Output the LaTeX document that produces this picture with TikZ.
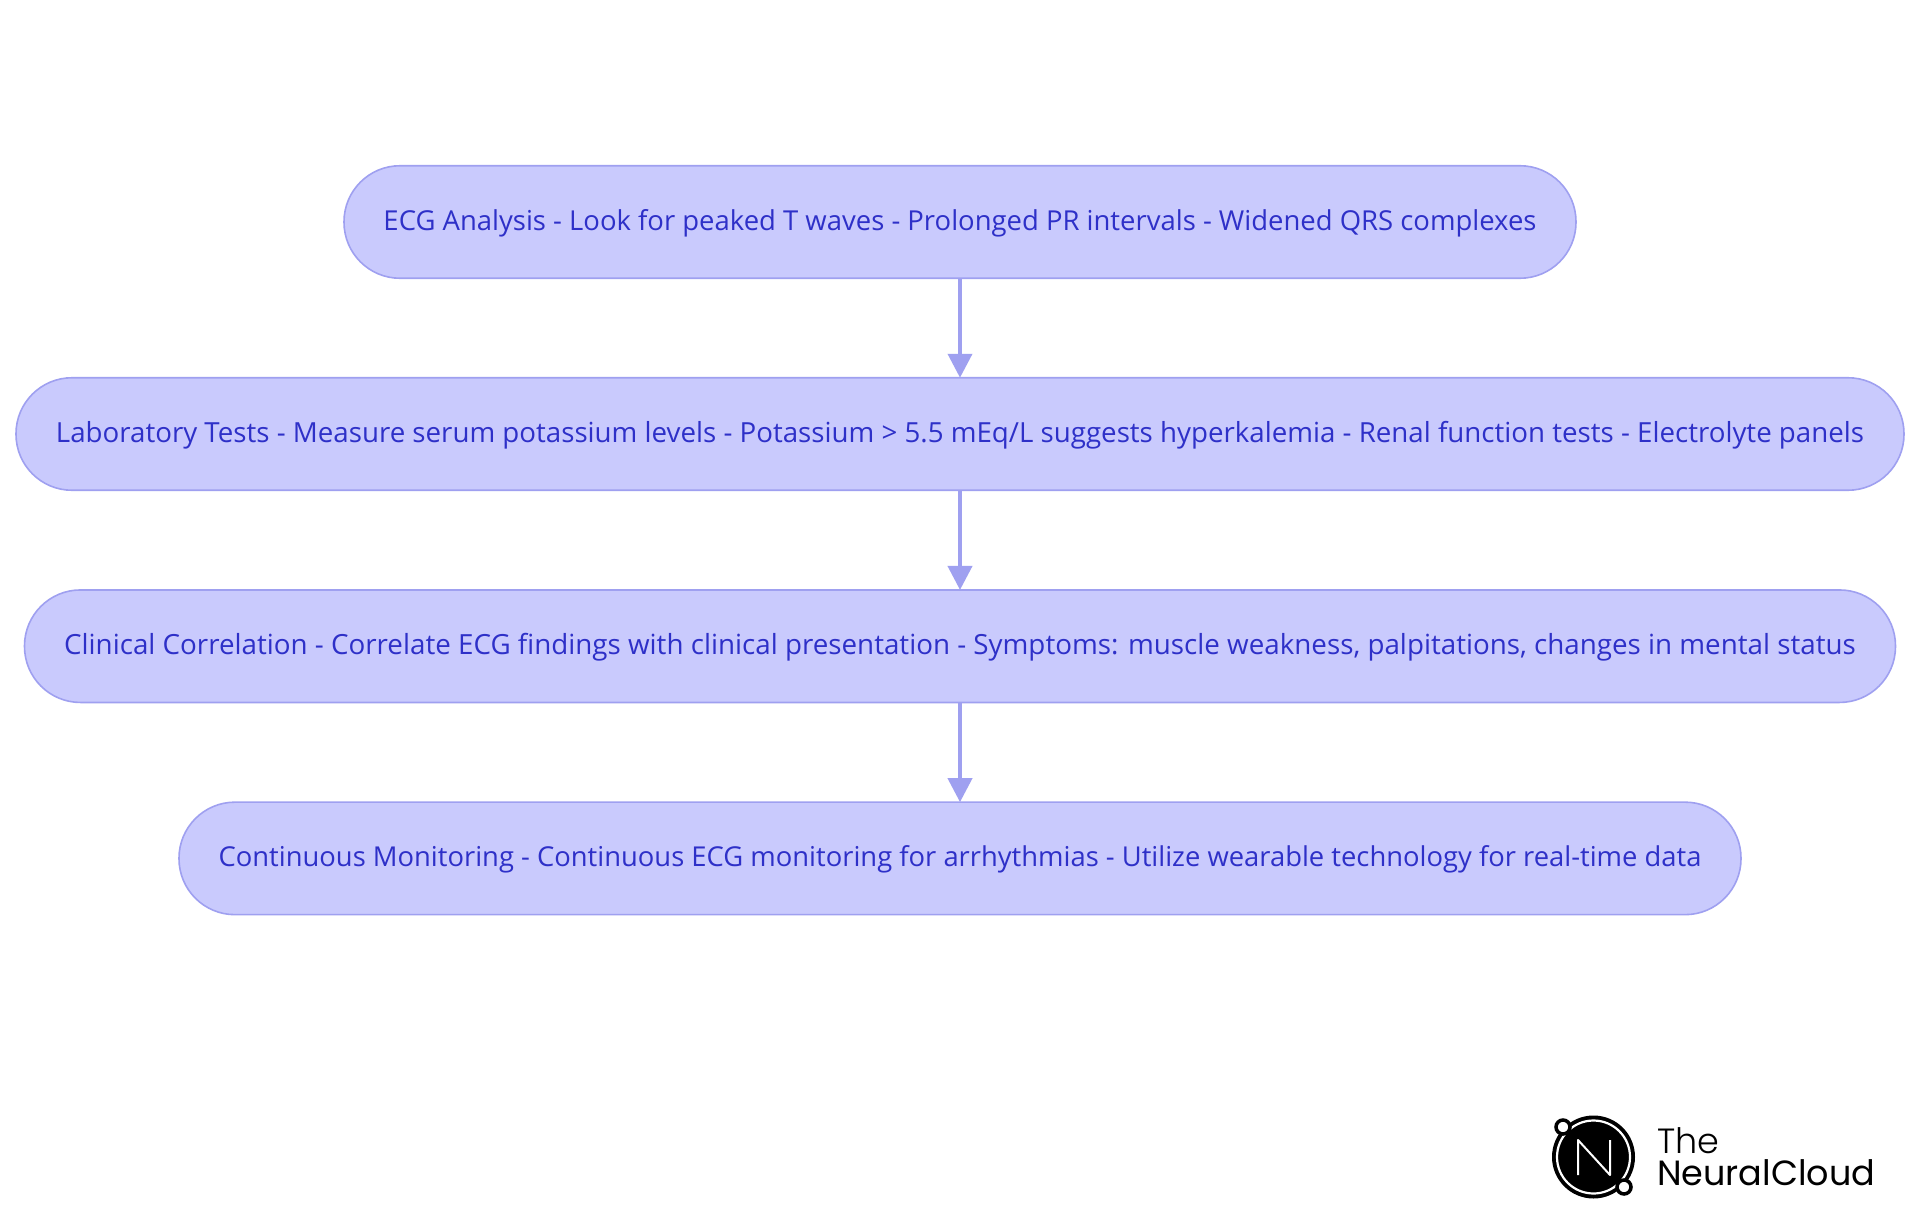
\documentclass[tikz,border=0pt]{standalone}
\usepackage{fontspec}
\setmainfont{Open Sans}
\newfontfamily\logofont{Poppins}
\newfontfamily\logolight{Poppins Light}
\usetikzlibrary{arrows.meta}
\definecolor{boxfill}{HTML}{C9CAFD}
\definecolor{boxline}{HTML}{9FA0F0}
\definecolor{boxtext}{HTML}{2E30C8}
\tikzset{
  x=1pt,y=-1pt,
  flowbox/.style={draw=boxline,fill=boxfill,line width=1.6pt,rounded corners=56pt,
    minimum height=112.5pt,inner sep=0pt,outer sep=0pt,text=boxtext,
    text height=21pt,text depth=4pt},
  flowarrow/.style={draw=boxline,line width=4pt,-{Triangle[width=24pt,length=24pt]}},
  logotext/.style={anchor=base west,inner sep=0pt},
}
\begin{document}
\begin{tikzpicture}
\useasboundingbox (0,0) rectangle (1920,1215);
\fill[white] (0,0) rectangle (1920,1215);
\node[flowbox,minimum width=1232pt,font=\fontsize{27.46}{32}\selectfont] (a) at (960,222) {ECG Analysis - Look for peaked T waves - Prolonged PR intervals - Widened QRS complexes};
\node[flowbox,minimum width=1888pt,font=\fontsize{27.69}{32}\selectfont] (b) at (960,434) {Laboratory Tests - Measure serum potassium levels - Potassium > 5.5 mEq/L suggests hyperkalemia - Renal function tests - Electrolyte panels};
\node[flowbox,minimum width=1871pt,font=\fontsize{27.76}{32}\selectfont] (c) at (960,646.2) {Clinical Correlation - Correlate ECG findings with clinical presentation - Symptoms: muscle weakness, palpitations, changes in mental status};
\node[flowbox,minimum width=1562pt,font=\fontsize{27.38}{32}\selectfont] (d) at (960,858.4) {Continuous Monitoring - Continuous ECG monitoring for arrhythmias - Utilize wearable technology for real-time data};
\draw[flowarrow] (a) -- (b);
\draw[flowarrow] (b) -- (c);
\draw[flowarrow] (c) -- (d);
% logo
\fill[black] (1593.5,1157) circle (41.5);
\draw[white,line width=2.2pt] (1593.5,1157) circle (36.5);
\draw[white,line width=2pt,line join=round] (1578,1175) -- (1578,1140) -- (1610,1175) -- (1610,1140);
\draw[black,fill=white,line width=3.5pt] (1563,1127) circle (7);
\draw[black,fill=white,line width=3.5pt] (1624,1187) circle (7);
\node[logotext,font=\logolight\fontsize{35}{40}\selectfont] (lt) at (1657,1153) {The};
\node[logotext,font=\logofont\fontsize{35}{40}\selectfont] (ln) at (1657,1185) {NeuralCloud};
\end{tikzpicture}
\end{document}
